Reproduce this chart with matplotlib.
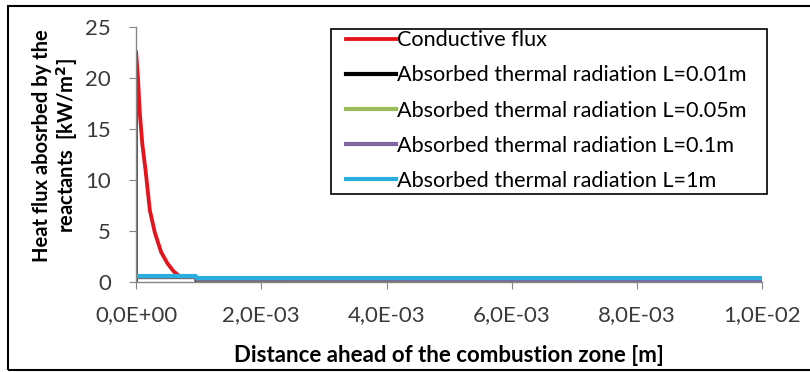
import numpy as np
import matplotlib.pyplot as plt
from matplotlib.ticker import FuncFormatter
from matplotlib.patches import Rectangle

# Distance ahead of the combustion zone [m] and absorbed heat flux [kW/m2]
x_cond = [0.0, 0.0, 0.00003, 0.00006, 0.0001, 0.00015, 0.00022, 0.0003, 0.0004, 0.0005, 0.0006, 0.0007]
q_cond = [0.0, 22.6, 20.0, 16.5, 13.5, 11.0, 7.0, 4.8, 2.9, 1.8, 1.0, 0.5]

x_rad = [0.0, 0.00095, 0.00097, 0.0024, 0.01]
q_rad_001 = [0.45, 0.45, 0.03, 0.03, 0.05]
q_rad_005 = [0.50, 0.50, 0.20, 0.20, 0.20]
q_rad_01 = [0.50, 0.50, 0.25, 0.25, 0.15]
q_rad_1 = [0.55, 0.55, 0.35, 0.35, 0.35]

labels = ["Conductive flux",
          "Absorbed thermal radiation L=0.01m",
          "Absorbed thermal radiation L=0.05m",
          "Absorbed thermal radiation L=0.1m",
          "Absorbed thermal radiation L=1m"]
colors = ["#e3141b", "#000000", "#9bbb59", "#8064a2", "#2aaee0"]

plt.rcParams['font.family'] = ['Lato', 'DejaVu Sans']

fig = plt.figure(figsize=(8.1, 3.72), dpi=100)
ax = fig.add_axes([0.168, 0.243, 0.773, 0.684])

ax.plot(x_cond, q_cond, color=colors[0], lw=2.75, label=labels[0])
for q, c, lab in zip([q_rad_001, q_rad_005, q_rad_01, q_rad_1], colors[1:], labels[1:]):
    ax.plot(x_rad, q, color=c, lw=3, label=lab)

ax.set_xlim(0, 0.01)
ax.set_ylim(0, 25)
ax.set_xticks(np.arange(0, 0.0101, 0.002))
ax.set_yticks(range(0, 26, 5))
ax.xaxis.set_major_formatter(FuncFormatter(lambda v, p: f"{v:.1E}".replace(".", ",")))

for s in ["top", "right"]:
    ax.spines[s].set_visible(False)
for s in ["left", "bottom"]:
    ax.spines[s].set_color("#868686")
    ax.spines[s].set_linewidth(1)
ax.tick_params(direction="out", length=5, color="#868686", labelsize=16, labelcolor="#3a3a3a")
ax.tick_params(axis="y", pad=13)
ax.tick_params(axis="x", pad=12)

ax.set_xlabel("Distance ahead of the combustion zone [m]", fontsize=16, fontweight="bold", labelpad=14)
ax.set_ylabel("Heat flux abosrbed by the\nreactants  [kW/m$^\\mathbf{2}$]", fontsize=14.5,
              fontweight="bold", linespacing=1.1, ha="center", va="center")
ax.yaxis.set_label_coords(-0.128, 0.535)

# legend without its own frame; the box is drawn below with wider side margins
leg = ax.legend(loc="upper left", bbox_to_anchor=(0.336, 0.988), fontsize=15.6, handlelength=2.3,
                handletextpad=0.05, borderaxespad=0, borderpad=0, labelspacing=0.7,
                frameon=False)

fig.canvas.draw()
bb = leg.get_window_extent()
inv = fig.transFigure.inverted()
(x0, y0), (x1, y1) = inv.transform([(bb.x0 - 15, bb.y0 - 3), (bb.x1 + 20, bb.y1 + 1)])
fig.patches.append(Rectangle((x0, y0), x1 - x0, y1 - y0, transform=fig.transFigure,
                             facecolor="white", edgecolor="black", lw=1.2, zorder=3))
leg.set_zorder(4)
leg.remove()
fig.legends.append(leg)
leg.set_figure(fig)

# outer frame around the chart
fig.patches.append(Rectangle((0.0099, 0.0054), 1.2, 0.9785, transform=fig.transFigure,
                             fill=False, edgecolor="black", lw=1.5))

fig.savefig("out.png", dpi=100)
